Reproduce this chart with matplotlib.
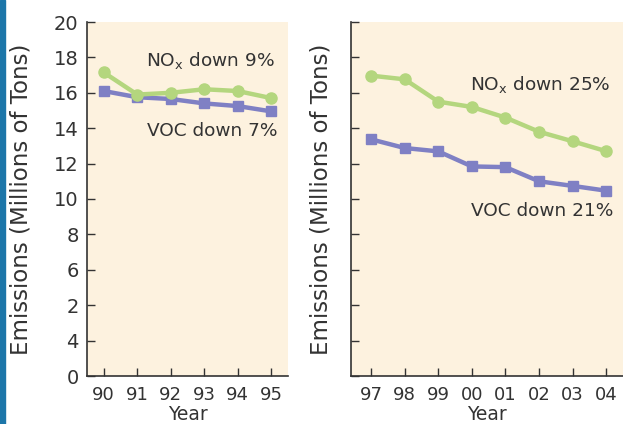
import matplotlib
matplotlib.use("Agg")
import matplotlib.pyplot as plt
import matplotlib.patches as patches

plt.rcParams['font.family'] = ['DejaVu Sans']
plt.rcParams['mathtext.default'] = 'regular'

years1 = ['90', '91', '92', '93', '94', '95']
nox1 = [17.15, 15.9, 16.0, 16.2, 16.1, 15.7]
voc1 = [16.1, 15.75, 15.65, 15.4, 15.25, 14.95]

years2 = ['97', '98', '99', '00', '01', '02', '03', '04']
nox2 = [16.97, 16.76, 15.5, 15.2, 14.6, 13.8, 13.26, 12.7]
voc2 = [13.37, 12.88, 12.69, 11.84, 11.8, 11.0, 10.74, 10.47]

yticks = [0, 2, 4, 6, 8, 10, 12, 14, 16, 18, 20]
ylabels = ['0', '4', '2', '6', '8', '10', '12', '14', '16', '18', '20']

green = '#b4d67e'
purple = '#7f80c4'
cream = '#fdf2df'
dark = '#333333'

fig = plt.figure(figsize=(6.23, 4.24), dpi=100)
fig.patches.append(patches.Rectangle((0, 0), 5/623, 1, transform=fig.transFigure,
                                     color='#1c76a9', zorder=0))

ax1 = fig.add_axes([87/623, 48/424, 201/623, 354/424])
ax2 = fig.add_axes([351/623, 48/424, 272/623, 354/424])

def style(ax, years, nox, voc, xlim):
    x = list(range(len(years)))
    ax.set_facecolor(cream)
    ax.plot(x, voc, '-s', color=purple, lw=3.2, ms=7, zorder=3)
    ax.plot(x, nox, '-o', color=green, lw=3.2, ms=8, zorder=4)
    ax.set_xlim(*xlim)
    ax.set_ylim(0, 20)
    ax.set_xticks(x)
    ax.set_xticklabels(years, fontsize=13, color=dark)
    ax.set_yticks(yticks)
    ax.tick_params(direction='in', length=6, width=1, color=dark, pad=6)
    ax.tick_params(axis='x', pad=7)
    for s in ['top', 'right']:
        ax.spines[s].set_visible(False)
    for s in ['left', 'bottom']:
        ax.spines[s].set_color(dark)
        ax.spines[s].set_linewidth(1.2)
    ax.set_xlabel('Year', fontsize=13.5, color=dark, labelpad=1)

style(ax1, years1, nox1, voc1, (-0.5, 5.5))
ax1.set_yticklabels(ylabels, fontsize=14, color=dark)
ax1.set_ylabel('Emissions (Millions of Tons)', fontsize=16.5, color=dark)
ax1.yaxis.set_label_coords(-0.272, 0.5)
ax1.text(5.12, 17.8, 'NO$_x$ down 9%', fontsize=13.3, color=dark, ha='right', va='center')
ax1.text(5.2, 13.85, 'VOC down 7%', fontsize=13.3, color=dark, ha='right', va='center')

style(ax2, years2, nox2, voc2, (-0.6, 7.5))
ax2.set_yticklabels([])
ax2.set_ylabel('Emissions (Millions of Tons)', fontsize=16.5, color=dark)
ax2.yaxis.set_label_coords(-0.068, 0.5)
ax2.text(7.12, 16.45, 'NO$_x$ down 25%', fontsize=13.3, color=dark, ha='right', va='center')
ax2.text(7.22, 9.3, 'VOC down 21%', fontsize=13.3, color=dark, ha='right', va='center')

fig.savefig('out.png', dpi=100)
